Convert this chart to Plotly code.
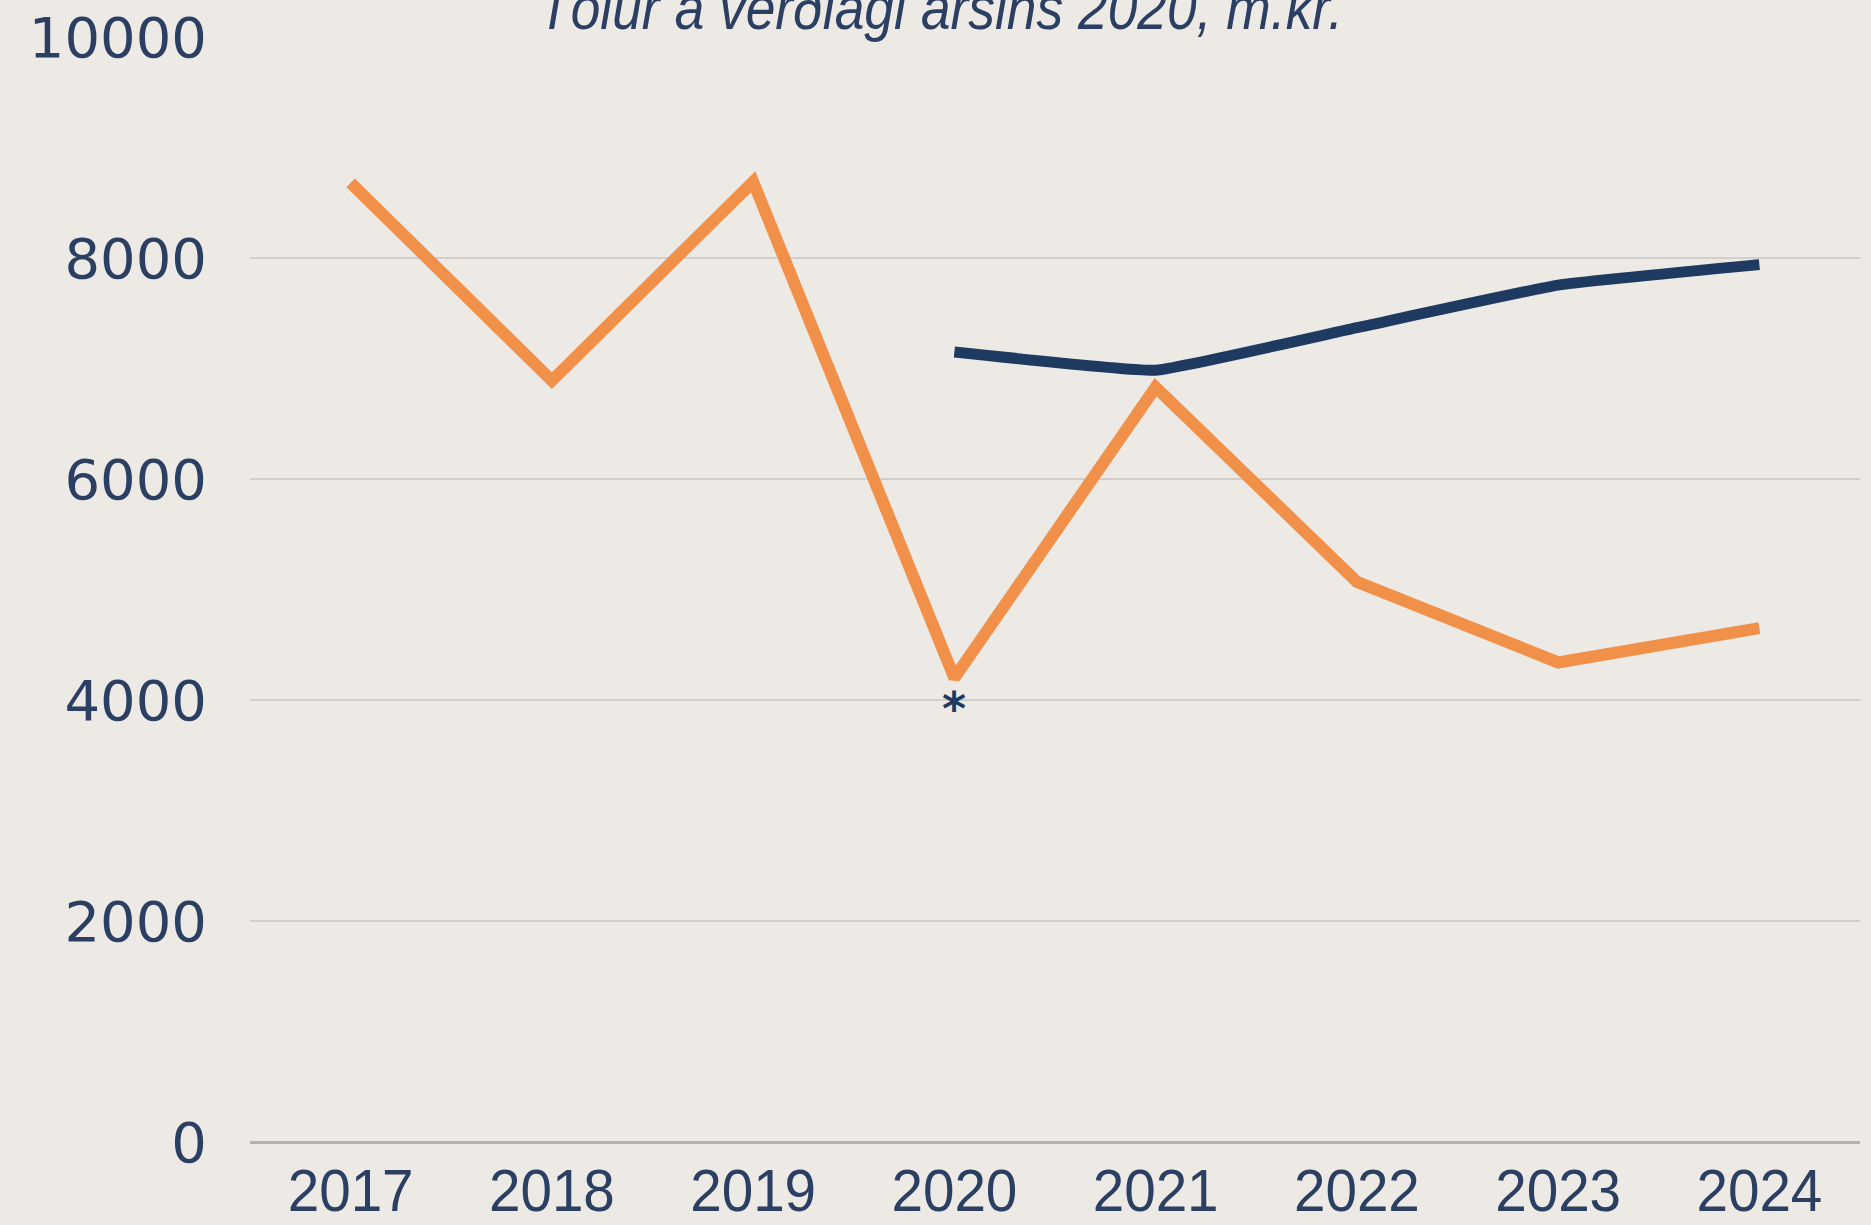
import plotly.graph_objects as go

years = ["2017", "2018", "2019", "2020", "2021", "2022", "2023", "2024"]
orange_values = [8680, 6890, 8690, 4200, 6830, 5070, 4340, 4650]
navy_values = [None, None, None, 7150, 6985, 7370, 7755, 7940]
y_ticks = [0, 2000, 4000, 6000, 8000, 10000]
title_text = "Tölur á verðlagi ársins 2020, m.kr."
star_index = 3  # 2020

bg = "#EDE9E5"
navy = "#1E3A60"
orange = "#F19048"
text_col = "#2A3F62"

fig = go.Figure()
fig.add_trace(go.Scatter(x=years, y=orange_values, mode="lines",
                         line=dict(color=orange, width=12), showlegend=False,
                         hoverinfo="skip"))
fig.add_trace(go.Scatter(x=years, y=navy_values, mode="lines",
                         line=dict(color=navy, width=11, shape="spline", smoothing=0.3),
                         showlegend=False, connectgaps=False, hoverinfo="skip"))

fig.add_annotation(x=star_index, y=4000, xref="x", yref="y", text="<b>*</b>",
                   showarrow=False, yanchor="middle", yshift=-9,
                   font=dict(family="DejaVu Sans", size=46, color=navy))

fig.add_annotation(x=0.4286, y=1.0, xref="paper", yref="paper", text=title_text,
                   showarrow=False, xanchor="center", yanchor="bottom", yshift=-7,
                   font=dict(family="Liberation Sans", size=62, color=text_col, style="italic"))

fig.update_layout(
    width=1871, height=1225,
    paper_bgcolor=bg, plot_bgcolor=bg,
    margin=dict(l=250, r=11, t=37, b=83),
    xaxis=dict(type="category", range=[-0.5, 7.5], showgrid=False, zeroline=False,
               showline=False, ticks="", ticklabelstandoff=8, automargin=False,
               tickfont=dict(family="Liberation Sans", size=60, color=text_col)),
    yaxis=dict(range=[0, 10000], tickvals=y_ticks, ticktext=[str(v) for v in y_ticks],
               showgrid=True, gridcolor="#D2CECB", gridwidth=2,
               zeroline=True, zerolinecolor="#B4B1AE", zerolinewidth=3,
               showline=False, ticks="", ticklabelstandoff=42, automargin=False,
               tickfont=dict(family="DejaVu Sans", size=56, color=text_col)),
)

post_js = """
(function(){
  document.body.style.margin = '0';
  var gd = document.getElementById('{plot_id}');
  function fix(){
    gd.querySelectorAll('.xtick text').forEach(function(t){
      t.setAttribute('textLength', '126');
      t.setAttribute('lengthAdjust', 'spacingAndGlyphs');
    });
    gd.querySelectorAll('.annotation-text').forEach(function(t){
      if (t.textContent.indexOf('T') === 0) {
        t.setAttribute('textLength', '805');
        t.setAttribute('lengthAdjust', 'spacingAndGlyphs');
      }
    });
  }
  fix();
  if (gd.on) { gd.on('plotly_afterplot', fix); }
  setTimeout(fix, 50);
})();
"""

fig.write_html("out.html", post_script=post_js, config={"displayModeBar": False})
